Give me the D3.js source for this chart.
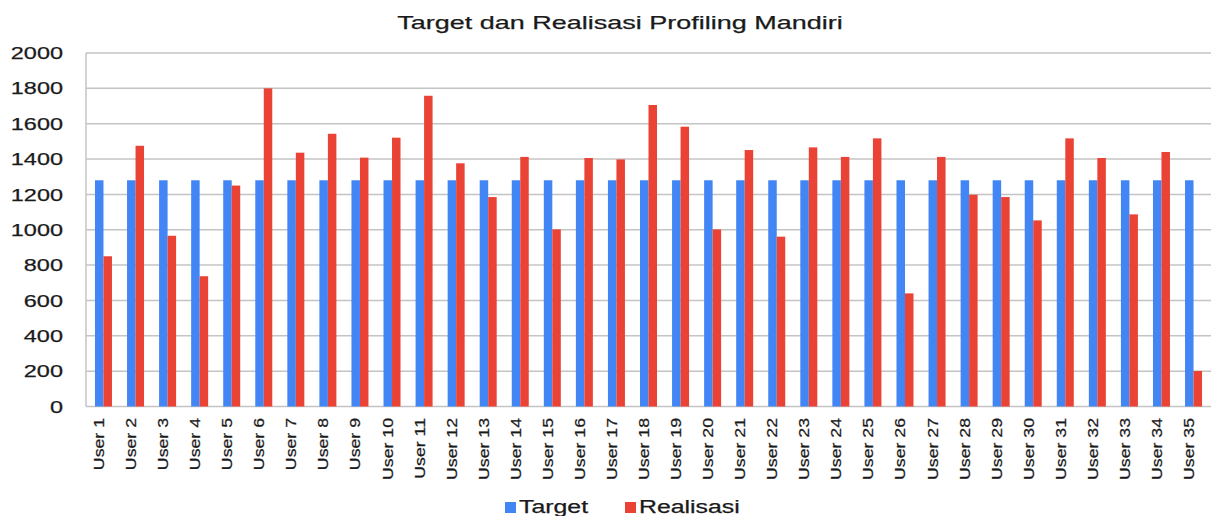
<!DOCTYPE html>
<html>
<head>
<meta charset="utf-8">
<script src="https://cdn.jsdelivr.net/npm/d3@7"></script>
<style>
  body { margin: 0; background: #fff; }
  text { font-family: "Liberation Sans", Arial, sans-serif; fill: #1a1a1a; stroke: #1a1a1a; stroke-width: 0.25px; }
</style>
</head>
<body>
<div id="chart"></div>
<script>
// data
const users = d3.range(1, 36).map(i => "User " + i);
const target = users.map(() => 1280);
const realisasi = [850, 1475, 966, 737, 1250, 1800, 1436, 1543, 1408, 1521,
  1758, 1376, 1185, 1412, 1002, 1406, 1398, 1706, 1583, 1002,
  1451, 961, 1466, 1412, 1517, 640, 1412, 1198, 1185, 1053,
  1517, 1406, 1087, 1440, 201];
const series = ["Target", "Realisasi"];
const yTicks = [0, 200, 400, 600, 800, 1000, 1200, 1400, 1600, 1800, 2000];

const width = 1211, height = 516;
const margin = { top: 53, right: 0, bottom: 109.5, left: 86 };

const color = d3.scaleOrdinal().domain(series).range(["#4285f4", "#ea4335"]);

const svg = d3.select("#chart").append("svg")
  .attr("width", width)
  .attr("height", height);

const x = d3.scaleBand()
  .domain(users)
  .range([margin.left, width - margin.right])
  .paddingInner(0.47)
  .paddingOuter(0.28);

const xInner = d3.scaleBand().domain(series).range([0, x.bandwidth()]);

const y = d3.scaleLinear()
  .domain([0, 2000])
  .range([height - margin.bottom, margin.top]);

// stretch text along its run, the source font is wider than Arial
function widen(sel, k) {
  sel.each(function () {
    const len = this.getComputedTextLength();
    d3.select(this).attr("textLength", len * k).attr("lengthAdjust", "spacingAndGlyphs");
  });
}

// gridlines
svg.append("g")
  .selectAll("line")
  .data(yTicks)
  .join("line")
  .attr("x1", margin.left)
  .attr("x2", width)
  .attr("y1", d => y(d))
  .attr("y2", d => y(d))
  .attr("stroke", "#c4c4c4")
  .attr("stroke-width", 1.5);

// left axis line
svg.append("line")
  .attr("x1", margin.left).attr("x2", margin.left)
  .attr("y1", y(2000)).attr("y2", y(0))
  .attr("stroke", "#c4c4c4")
  .attr("stroke-width", 1.5);

// y labels
svg.append("g")
  .selectAll("text")
  .data(yTicks)
  .join("text")
  .attr("x", 63)
  .attr("y", d => y(d))
  .attr("dy", "0.36em")
  .attr("text-anchor", "end")
  .style("font-size", "17px")
  .text(d => d)
  .call(widen, 1.38);

// bars
const rows = users.map((u, i) => ({ user: u, Target: target[i], Realisasi: realisasi[i] }));

svg.append("g")
  .selectAll("g")
  .data(rows)
  .join("g")
  .attr("transform", d => `translate(${x(d.user)},0)`)
  .selectAll("rect")
  .data(d => series.map(s => ({ key: s, value: d[s] })))
  .join("rect")
  .attr("x", d => xInner(d.key))
  .attr("width", xInner.bandwidth())
  .attr("y", d => y(d.value))
  .attr("height", d => y(0) - y(d.value))
  .attr("fill", d => color(d.key));

// x labels
svg.append("g")
  .selectAll("text")
  .data(users)
  .join("text")
  .attr("transform", d => `translate(${x(d) + x.bandwidth() / 2 + 0.5}, 418) rotate(-90)`)
  .attr("text-anchor", "end")
  .style("font-size", "15px")
  .text(d => d)
  .call(widen, 1.18);

// title
svg.append("text")
  .attr("x", 620)
  .attr("y", 29)
  .attr("text-anchor", "middle")
  .style("font-size", "19px")
  .text("Target dan Realisasi Profiling Mandiri")
  .call(widen, 1.42);

// legend
const legendPos = [505, 625];
const legend = svg.append("g")
  .selectAll("g")
  .data(series)
  .join("g")
  .attr("transform", (d, i) => `translate(${legendPos[i]}, 502)`);

legend.append("rect")
  .attr("width", 11)
  .attr("height", 11)
  .attr("fill", color);

legend.append("text")
  .attr("x", 14)
  .attr("y", 11)
  .style("font-size", "18px")
  .text(d => d)
  .call(widen, 1.38);
</script>
</body>
</html>
